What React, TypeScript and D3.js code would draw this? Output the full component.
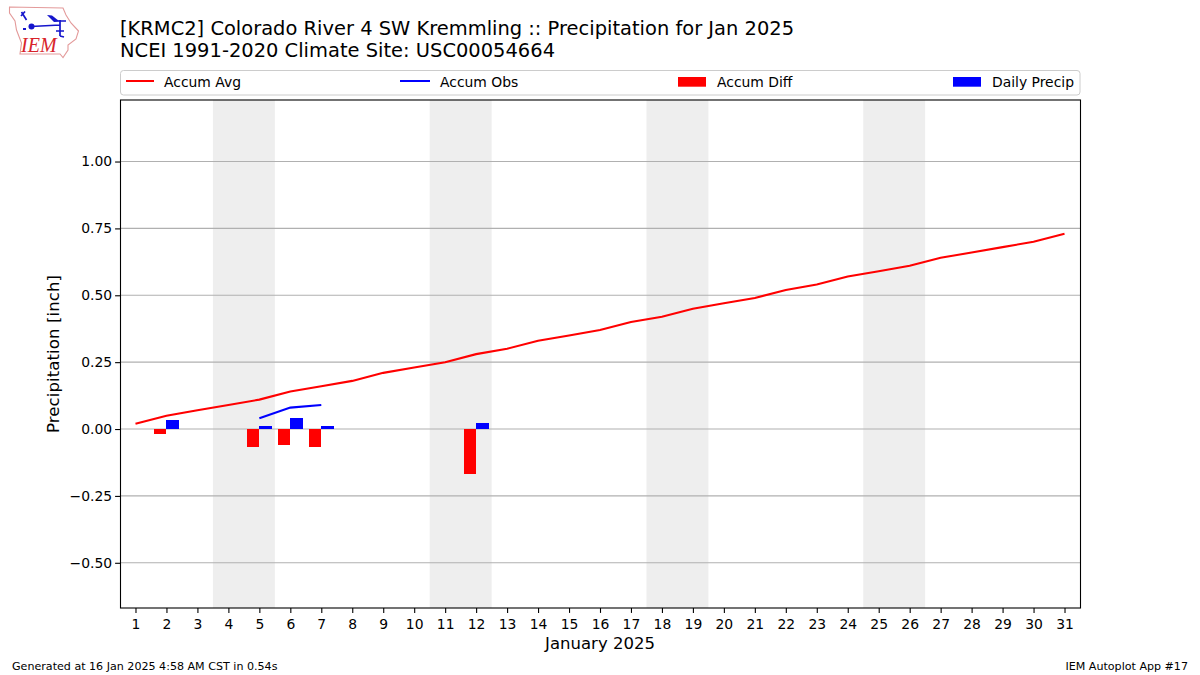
import React, { useRef, useEffect } from 'react';
import * as d3 from 'd3';

const days = d3.range(1, 32);
const accumAvg = [0.02, 0.05, 0.07, 0.09, 0.11, 0.14, 0.16, 0.18, 0.21, 0.23, 0.25, 0.28, 0.30, 0.33, 0.35, 0.37, 0.40, 0.42, 0.45, 0.47, 0.49, 0.52, 0.54, 0.57, 0.59, 0.61, 0.64, 0.66, 0.68, 0.70, 0.73];
const obsDays = [5, 6, 7];
const accumObs = [0.04, 0.08, 0.09];
const barDays = [2, 5, 6, 7, 12];
const accumDiff = [-0.018, -0.066, -0.06, -0.066, -0.168];
const dailyPrecip = [0.034, 0.012, 0.042, 0.012, 0.022];
const weekends = [[3.5, 5.5], [10.5, 12.5], [17.5, 19.5], [24.5, 26.5]];
const yTicks = [-0.5, -0.25, 0, 0.25, 0.5, 0.75, 1];

const FONT = '"DejaVu Sans", sans-serif';

export default function App() {
  const svgRef = useRef<SVGSVGElement>(null);

  useEffect(() => {
    const svg = d3.select(svgRef.current);
    svg.selectAll('*').remove();
    svg.style('font-family', FONT);

    const margin = { top: 100, right: 1080, bottom: 608, left: 120 };
    const x = d3.scaleLinear().domain([0.5, 31.5]).range([margin.left, margin.right]);
    const y = d3.scaleLinear().domain([-0.669, 1.23]).range([margin.bottom, margin.top]);
    const barW = x(1.4) - x(1);

    // logo
    const logo = svg.append('g');
    logo.append('path')
      .attr('d', 'M9.5 7 L63 8 L66 15 L71 23 L78.5 31 L76 39 L68 45 L68 50 L63 57.5 L60 54 L20 54 L21.5 43 L16.5 30 L15 21 L9.5 13 Z')
      .attr('fill', 'white').attr('stroke', '#e39a9a').attr('stroke-width', 1.1);
    logo.append('path')
      .attr('d', 'M21.5 12 L26.5 20 M21 16 L25 11.5 M31 26.5 L60 25 M60 20 L60 36 M54 21 L66 21 M56 31 L64 31 M60 36 L64 37')
      .attr('fill', 'none').attr('stroke', '#1515cc').attr('stroke-width', 1.7);
    logo.append('circle').attr('cx', 31.5).attr('cy', 26.5).attr('r', 3).attr('fill', '#1515cc');
    logo.append('path').attr('d', 'M47 15 L52 15.5 L59 21 L54 22 Z').attr('fill', '#1515cc');
    logo.append('path').attr('d', 'M23 28 L26 28 L26 30 L23 30 Z').attr('fill', '#1515cc');
    logo.append('text')
      .attr('x', 21).attr('y', 52)
      .attr('font-family', '"Liberation Serif", serif').attr('font-style', 'italic')
      .attr('font-size', 20).attr('fill', '#d8232a').text('IEM');

    // titles
    svg.append('text').attr('x', 120).attr('y', 35).attr('font-size', 19.44).attr('fill', 'black')
      .attr('textLength', 674).attr('lengthAdjust', 'spacing')
      .text('[KRMC2] Colorado River 4 SW Kremmling :: Precipitation for Jan 2025');
    svg.append('text').attr('x', 120).attr('y', 57).attr('font-size', 19.44).attr('fill', 'black')
      .attr('textLength', 435).attr('lengthAdjust', 'spacing')
      .text('NCEI 1991-2020 Climate Site: USC00054664');

    // legend
    svg.append('rect').attr('x', 120.5).attr('y', 70.5).attr('width', 959.5).attr('height', 24.5)
      .attr('rx', 3).attr('fill', 'white').attr('stroke', '#cccccc');
    const legendText = (tx: number, label: string) => svg.append('text')
      .attr('x', tx).attr('y', 86.5).attr('font-size', 13.9).attr('fill', 'black').text(label);
    svg.append('line').attr('x1', 126).attr('x2', 154).attr('y1', 81).attr('y2', 81).attr('stroke', 'red').attr('stroke-width', 2);
    legendText(164, 'Accum Avg');
    svg.append('line').attr('x1', 400).attr('x2', 430).attr('y1', 81).attr('y2', 81).attr('stroke', 'blue').attr('stroke-width', 2);
    legendText(440, 'Accum Obs');
    svg.append('rect').attr('x', 678).attr('y', 77).attr('width', 28).attr('height', 9.7).attr('fill', 'red');
    legendText(717, 'Accum Diff');
    svg.append('rect').attr('x', 953).attr('y', 77).attr('width', 28).attr('height', 9.7).attr('fill', 'blue');
    legendText(992, 'Daily Precip');

    // weekend shading
    svg.append('g').selectAll('rect').data(weekends).join('rect')
      .attr('x', d => x(d[0]))
      .attr('width', d => x(d[1]) - x(d[0]))
      .attr('y', margin.top)
      .attr('height', margin.bottom - margin.top)
      .attr('fill', '#eeeeee');

    // grid
    svg.append('g').selectAll('line').data(yTicks).join('line')
      .attr('x1', margin.left).attr('x2', margin.right)
      .attr('y1', d => y(d)).attr('y2', d => y(d))
      .attr('stroke', '#b0b0b0').attr('stroke-width', 1.1);

    // bars
    svg.append('g').attr('shape-rendering', 'crispEdges').selectAll('rect').data(barDays).join('rect')
      .attr('x', d => x(d) - barW)
      .attr('width', barW)
      .attr('y', y(0))
      .attr('height', (_, i) => y(accumDiff[i]) - y(0))
      .attr('fill', 'red');
    svg.append('g').attr('shape-rendering', 'crispEdges').selectAll('rect').data(barDays).join('rect')
      .attr('x', d => x(d))
      .attr('width', barW)
      .attr('y', (_, i) => y(dailyPrecip[i]))
      .attr('height', (_, i) => y(0) - y(dailyPrecip[i]))
      .attr('fill', 'blue');

    // lines
    const line = d3.line<number>().x(d => x(d[0])).y(d => y(d[1]));
    svg.append('path').datum(days.map((d, i) => [d, accumAvg[i]]) as any)
      .attr('d', line as any).attr('fill', 'none').attr('stroke', 'red').attr('stroke-width', 2.08);
    svg.append('path').datum(obsDays.map((d, i) => [d, accumObs[i]]) as any)
      .attr('d', line as any).attr('fill', 'none').attr('stroke', 'blue').attr('stroke-width', 2.08);

    // axes
    const xAxis = svg.append('g')
      .attr('transform', `translate(0,${margin.bottom})`)
      .call(d3.axisBottom(x).tickValues(days).tickFormat(d3.format('d') as any).tickSize(4.9).tickSizeOuter(0));
    xAxis.select('.domain').remove();
    xAxis.selectAll('text').attr('font-size', 13.9).attr('font-family', FONT).attr('fill', 'black').attr('dy', '0.95em');
    xAxis.selectAll('line').attr('stroke-width', 1.1);

    const yAxis = svg.append('g')
      .attr('transform', `translate(${margin.left},0)`)
      .call(d3.axisLeft(y).tickValues(yTicks).tickFormat(d3.format('.2f') as any).tickSize(4.9).tickSizeOuter(0));
    yAxis.select('.domain').remove();
    yAxis.selectAll('text').attr('font-size', 13.9).attr('font-family', FONT).attr('fill', 'black');
    yAxis.selectAll('line').attr('stroke-width', 1.1);

    // frame
    svg.append('rect')
      .attr('x', margin.left + 0.5).attr('y', margin.top)
      .attr('width', margin.right - margin.left).attr('height', margin.bottom - margin.top)
      .attr('fill', 'none').attr('stroke', 'black').attr('stroke-width', 1.1);

    // axis labels
    svg.append('text').attr('x', 600).attr('y', 649).attr('text-anchor', 'middle').attr('font-size', 16.5).attr('fill', 'black')
      .text('January 2025');
    svg.append('text').attr('transform', `translate(59,354) rotate(-90)`).attr('text-anchor', 'middle').attr('font-size', 16.6).attr('fill', 'black')
      .attr('textLength', 158).attr('lengthAdjust', 'spacing')
      .text('Precipitation [inch]');

    // footer
    svg.append('text').attr('x', 12).attr('y', 670).attr('font-size', 11.1).attr('fill', 'black')
      .text('Generated at 16 Jan 2025 4:58 AM CST in 0.54s');
    svg.append('text').attr('x', 1188).attr('y', 670).attr('text-anchor', 'end').attr('font-size', 11.1).attr('fill', 'black')
      .text('IEM Autoplot App #17');
  }, []);

  return <svg ref={svgRef} width={1200} height={675} style={{ position: 'absolute', left: 0, top: 0, background: 'white' }} />;
}
